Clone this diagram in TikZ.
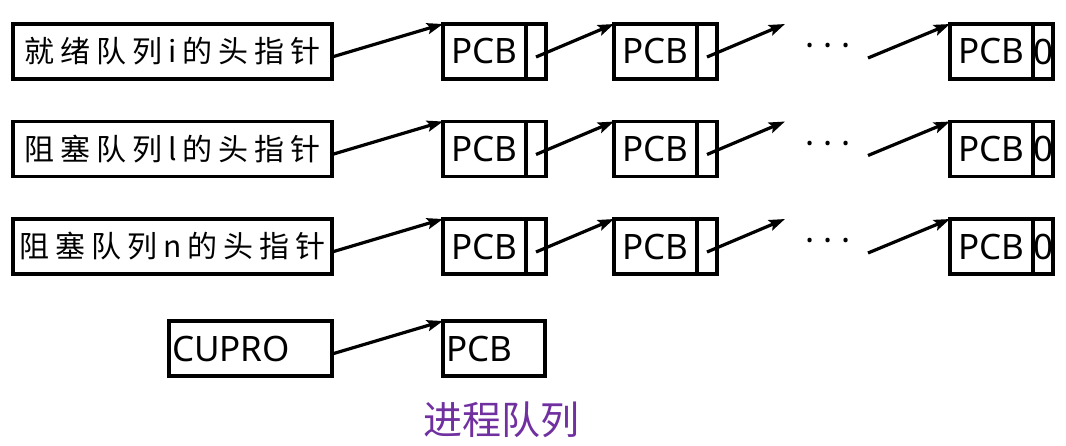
\documentclass[tikz,border=0pt]{standalone}
\usepackage{fontspec}
\usepackage{tikz}
\usetikzlibrary{positioning,arrows.meta}
\newfontfamily\cjkfont{Noto Sans CJK SC}
\newfontfamily\pcbfont{Noto Sans}
\definecolor{purple3}{HTML}{7030A0}
\tikzset{
  headbox/.style={draw,line width=3.2pt,minimum width=319pt,minimum height=55pt,inner sep=0pt,outer sep=0pt,
    font=\cjkfont\fontsize{30}{32}\selectfont\addfontfeature{LetterSpace=20}},
  pcbbox/.style={draw,line width=3.2pt,minimum width=83pt,minimum height=55pt,inner sep=0pt,outer sep=0pt,
    font=\pcbfont\fontsize{35}{40}\selectfont},
  ptrbox/.style={draw,line width=3.2pt,minimum width=20pt,minimum height=55pt,inner sep=0pt,outer sep=0pt,
    font=\pcbfont\fontsize{35}{40}\selectfont},
  leftbox/.style={draw,line width=3.2pt,minimum height=55pt,inner xsep=3pt,inner ysep=0pt,outer sep=0pt,
    align=left,font=\pcbfont\fontsize{35}{40}\selectfont},
  link/.style={-{Stealth[length=16pt,width=11pt,inset=3pt]},line width=3.2pt},
  dotsnode/.style={inner sep=0pt,font=\pcbfont\fontsize{34}{34}\selectfont}
}

\begin{document}
\begin{tikzpicture}[x=1pt,y=-1pt]
        \useasboundingbox (0,0) rectangle (1066,445);

        % ready queue
        \node[headbox] (h1) at (172.5,51.5) {就绪队列i的头指针};
        \node[pcbbox,right=111pt of h1] (p11) {PCB};
        \node[ptrbox,right=0pt of p11] (q11) {};
        \node[pcbbox,right=68pt of q11] (p12) {PCB};
        \node[ptrbox,right=0pt of p12] (q12) {};
        \node[pcbbox,right=233pt of q12] (p13) {PCB};
        \node[ptrbox,right=0pt of p13] (q13) {0};
        \coordinate (e1) at ([xshift=68pt]q12.north east);
        \node[dotsnode] (d1) at ([xshift=111pt,yshift=1pt]q12.east) {· · ·};
        \coordinate (s1) at ([xshift=-82pt,yshift=-6.5pt]p13.west);

        \draw[link] ([yshift=-5.5pt]h1.east) to (p11.north west);
        \draw[link] ([yshift=-5.5pt]q11.center) to (p12.north west);
        \draw[link] ([yshift=-5.5pt]q12.center) to (e1);
        \draw[link] (s1) to (p13.north west);

        % blocked queue l
        \node[headbox] (h2) at (172.5,149) {阻塞队列l的头指针};
        \node[pcbbox,right=111pt of h2] (p21) {PCB};
        \node[ptrbox,right=0pt of p21] (q21) {};
        \node[pcbbox,right=68pt of q21] (p22) {PCB};
        \node[ptrbox,right=0pt of p22] (q22) {};
        \node[pcbbox,right=233pt of q22] (p23) {PCB};
        \node[ptrbox,right=0pt of p23] (q23) {0};
        \coordinate (e2) at ([xshift=68pt]q22.north east);
        \node[dotsnode] (d2) at ([xshift=111pt,yshift=1pt]q22.east) {· · ·};
        \coordinate (s2) at ([xshift=-82pt,yshift=-6.5pt]p23.west);

        \draw[link] ([yshift=-5.5pt]h2.east) to (p21.north west);
        \draw[link] ([yshift=-5.5pt]q21.center) to (p22.north west);
        \draw[link] ([yshift=-5.5pt]q22.center) to (e2);
        \draw[link] (s2) to (p23.north west);

        % blocked queue n
        \node[headbox] (h3) at (172.5,246.5) {阻塞队列n的头指针};
        \node[pcbbox,right=111pt of h3] (p31) {PCB};
        \node[ptrbox,right=0pt of p31] (q31) {};
        \node[pcbbox,right=68pt of q31] (p32) {PCB};
        \node[ptrbox,right=0pt of p32] (q32) {};
        \node[pcbbox,right=233pt of q32] (p33) {PCB};
        \node[ptrbox,right=0pt of p33] (q33) {0};
        \coordinate (e3) at ([xshift=68pt]q32.north east);
        \node[dotsnode] (d3) at ([xshift=111pt,yshift=1pt]q32.east) {· · ·};
        \coordinate (s3) at ([xshift=-82pt,yshift=-6.5pt]p33.west);

        \draw[link] ([yshift=-5.5pt]h3.east) to (p31.north west);
        \draw[link] ([yshift=-5.5pt]q31.center) to (p32.north west);
        \draw[link] ([yshift=-5.5pt]q32.center) to (e3);
        \draw[link] (s3) to (p33.north west);

        % running process
        \node[leftbox,text width=157pt] (cur) at (250.5,348.5) {CUPRO};
        \node[leftbox,text width=96pt,right=111pt of cur] (run) {PCB};
        \draw[link] ([yshift=-5.5pt]cur.east) to (run.north west);

        \node[font=\cjkfont\fontsize{39}{42}\selectfont,text=purple3] (title) at (501,420) {进程队列};
    \end{tikzpicture}
\end{document}
